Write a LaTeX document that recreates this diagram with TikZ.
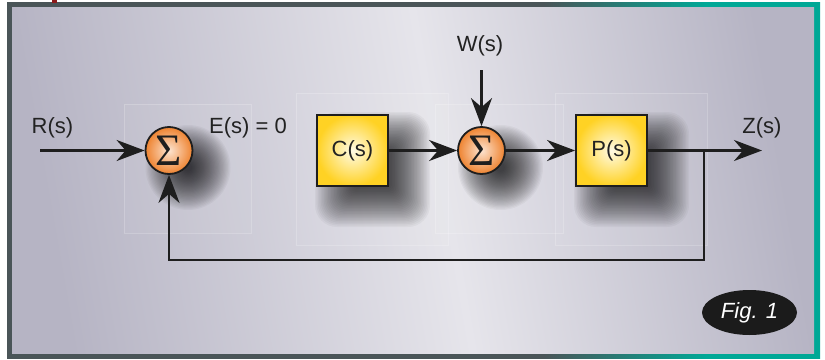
\documentclass[tikz,border=0pt]{standalone}
\usepackage{fontspec}
\setmainfont{Liberation Sans}
\newfontfamily\sigmafont{Liberation Serif}
\usetikzlibrary{arrows.meta,shapes.geometric,calc}

\definecolor{frameA}{HTML}{4A5558}
\definecolor{frameB}{HTML}{00A896}
\definecolor{bgA}{HTML}{B6B4C4}
\definecolor{bgB}{HTML}{E6E5EB}
\definecolor{boxIn}{HTML}{FFFBE6}
\definecolor{boxOut}{HTML}{FFD224}
\definecolor{sumIn}{HTML}{FDE4D0}
\definecolor{sumOut}{HTML}{EE8330}
\definecolor{ink}{HTML}{1E1E1E}
\definecolor{txt}{HTML}{222222}
\definecolor{markred}{HTML}{8B1A1A}
\definecolor{figfill}{HTML}{1B1B1B}

% frame: slate grey turning teal towards the right
\pgfdeclarehorizontalshading{framesh}{100bp}{color(0bp)=(frameA); color(25bp)=(frameA);
  color(58bp)=(frameA); color(68bp)=(frameB); color(100bp)=(frameB)}
% panel background: darker at both sides, light in the middle
\pgfdeclarehorizontalshading{bgsh}{100bp}{color(0bp)=(bgA); color(25bp)=(bgA);
  color(52bp)=(bgB); color(75bp)=(bgA); color(100bp)=(bgA)}

\pgfdeclarelayer{backdrop}
\pgfdeclarelayer{shadows}
\pgfsetlayers{backdrop,shadows,main}

% soft drop shadows built from stacked translucent layers
\newcommand\blockshade[1]{%
  \foreach \k in {0,...,30}{%
    \pgfmathsetmacro\hs{35.5+22-\k*44/30}%
    \pgfmathsetmacro\rc{max(1,22-\k*0.7)}%
    \fill[black, fill opacity=0.036, rounded corners=\rc pt]
      ($(#1.center)+(20-\hs,19-\hs)$) rectangle ($(#1.center)+(20+\hs,19+\hs)$);
  }}
\newcommand\sumshade[1]{%
  \foreach \k in {0,...,30}{%
    \pgfmathsetmacro\rr{23.5+19-\k*38/30}%
    \fill[black, fill opacity=0.036] ($(#1.center)+(19,17)$) circle[radius=\rr];
  }}

\tikzset{
  lbl/.style={font=\fontsize{22}{26}\selectfont, text=txt, inner sep=0pt},
  sumnode/.style={circle, minimum size=47pt, inner sep=0pt, draw=ink, line width=1.8pt,
      inner color=sumIn, outer color=sumOut,
      font=\sigmafont\fontsize{45}{45}\selectfont, text=ink},
  blocknode/.style={rectangle, minimum size=71pt, inner sep=0pt, draw=ink, line width=1.8pt,
      inner color=boxIn, outer color=boxOut,
      font=\fontsize{22}{26}\selectfont, text=txt},
  panel/.style={draw=white, draw opacity=0.2, line width=0.5pt, fill=white, fill opacity=0.04},
  sig/.style={line width=2.6pt, draw=ink},
  arr/.style={sig, -{Stealth[length=28pt, width=21pt, inset=9pt]}},
  figlabel/.style={ellipse, minimum width=95pt, minimum height=45pt, inner sep=0pt,
      fill=figfill, text=white, font=\itshape\fontsize{22}{26}\selectfont},
}

\begin{document}
\begin{tikzpicture}[x=1pt, y=-1pt]
\useasboundingbox (0,0) rectangle (825,359);

% frame and background
\begin{pgfonlayer}{backdrop}
\shade[shading=framesh] (7,2.5) rectangle (820,358);
\shade[shading=bgsh, shading angle=10] (12,7.5) rectangle (814,353);
\fill[markred] (52,0) rectangle (56.5,2.5);
% faint panels behind the blocks
\path[panel] (124,104) rectangle (251,233);
\path[panel] (296,93) rectangle (448,245);
\path[panel] (435,104) rectangle (563,233);
\path[panel] (555,93) rectangle (707,245);
\end{pgfonlayer}

% blocks
\node[sumnode] (s1) at (169,150.5) {Σ};
\node[blocknode] (C) at (352.5,150.5) {C(s)};
\node[sumnode] (s2) at (481.5,150.5) {Σ};
\node[blocknode] (P) at (611.5,150.5) {P(s)};

\begin{pgfonlayer}{shadows}
\sumshade{s1}
\blockshade{C}
\sumshade{s2}
\blockshade{P}
\end{pgfonlayer}

% labels
\node[lbl] (rl) at (52.5,128) {R(s)};
\node[lbl] (el) at (248,128) {E(s) = 0};
\node[lbl] (wl) at (480,46) {W(s)};
\node[lbl] (zl) at (762,128) {Z(s)};

% signal ends
\coordinate (rin) at (40,150.5);
\coordinate (win) at (481.5,70);
\coordinate (br) at (704,150.5);
\coordinate (zout) at (762,150.5);
\coordinate (fb) at (704,260);

% connectors
\draw[arr] (rin) -- (s1);
\draw[arr] (C) -- (s2);
\draw[arr] (win) -- (s2);
\draw[arr] (s2) -- (P);
\draw[arr] (P) -- (zout);
\draw[arr] (br) -- (fb) -| (s1);

% figure tag
\node[figlabel] (fig) at (749.5,312.5) {Fig. 1};
\end{tikzpicture}
\end{document}
